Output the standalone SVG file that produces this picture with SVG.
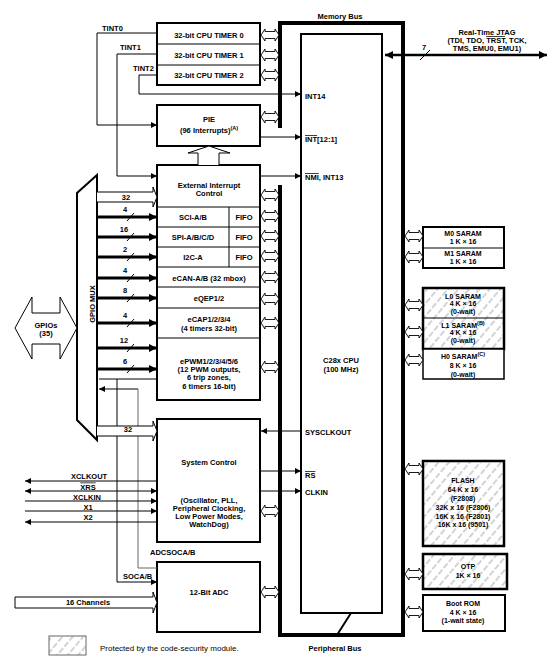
<svg xmlns="http://www.w3.org/2000/svg" xmlns:xlink="http://www.w3.org/1999/xlink" width="557" height="662" viewBox="0 0 557 662">
<style>
text{font-family:"Liberation Sans",Arial,sans-serif;font-size:7.5px;font-weight:bold;fill:#000;text-anchor:middle}
.l{text-anchor:start}
.m{font-size:7px}
.reg{font-weight:normal;font-size:8px}
.sup{font-size:5.5px}
.ov{text-decoration:overline}
.box{fill:#fff;stroke:#000;stroke-width:2}
.hb{fill:url(#hatch);stroke:#000;stroke-width:2.5}
.div{stroke:#000;stroke-width:1;fill:none}
.w{stroke:#000;stroke-width:1;fill:none}
.wa{stroke:#000;stroke-width:1;fill:none;marker-end:url(#ah)}
.ta{stroke:#000;stroke-width:3;fill:none;marker-end:url(#ahT)}
.ho{fill:#fff;stroke:#000;stroke-width:1}
.bus{fill:none;stroke:#000;stroke-width:4;stroke-linejoin:miter}
</style>
<defs>
<marker id="ah" viewBox="0 0 10 10" refX="10" refY="5" markerWidth="7" markerHeight="6" markerUnits="userSpaceOnUse" orient="auto-start-reverse"><path d="M0,0 L10,5 L0,10 Z" fill="#000"/></marker>
<marker id="ahT" viewBox="0 0 10 10" refX="10" refY="5" markerWidth="8" markerHeight="8" markerUnits="userSpaceOnUse" orient="auto-start-reverse"><path d="M0,0 L10,5 L0,10 Z" fill="#000"/></marker>
<pattern id="hatch" width="8" height="8" patternUnits="userSpaceOnUse" patternTransform="rotate(40)"><rect width="8" height="8" fill="#fff"/><line x1="1" y1="0" x2="1" y2="8" stroke="#b0b0b0" stroke-width="1.1" stroke-dasharray="6 2"/></pattern>
<path id="bx" d="M0,0 L4,-6 V-3.5 H14 V-6 L18,0 L14,6 V3.5 H4 V6 Z" fill="#fff" stroke="#000" stroke-width="0.9"/>
</defs>
<rect width="557" height="662" fill="#fff"/>

<g id="bus-frame">
<path class="bus" d="M280,128 V23 H403 V635 H280 V185"/>
<line x1="351" y1="613" x2="337" y2="635" stroke="#000" stroke-width="2"/>
<text x="340" y="19">Memory Bus</text>
<text x="335" y="651">Peripheral Bus</text>
</g>

<g id="cpu">
<rect x="301" y="34" width="81" height="579" fill="#fff" stroke="#000" stroke-width="2"/>
<text class="l" x="305" y="98.5">INT14</text>
<text class="l" x="305" y="142"><tspan class="ov">INT</tspan>[12:1]</text>
<text class="l" x="305" y="180"><tspan class="ov">NMI</tspan>, INT13</text>
<text x="341" y="363">C28x CPU</text>
<text x="341" y="372">(100 MHz)</text>
<text class="l" x="305" y="434.5">SYSCLKOUT</text>
<text class="l" x="305" y="478"><tspan class="ov">RS</tspan></text>
<text class="l" x="305" y="495">CLKIN</text>
</g>

<g id="jtag">
<text x="487" y="34.5">Real-Time JTAG</text>
<text x="487" y="43">(TDI, TDO, <tspan class="ov">TRST</tspan>, TCK,</text>
<text x="487" y="50.5">TMS, EMU0, EMU1)</text>
</g>

<g id="timers">
<rect class="box" x="157" y="23" width="103" height="62"/>
<line class="div" x1="157" y1="44" x2="260" y2="44"/>
<line class="div" x1="157" y1="65" x2="260" y2="65"/>
<text x="209" y="37.5">32-bit CPU TIMER 0</text>
<text x="209" y="58">32-bit CPU TIMER 1</text>
<text x="209" y="78">32-bit CPU TIMER 2</text>
</g>

<g id="pie">
<rect class="box" x="157" y="105" width="103" height="41"/>
<text x="209" y="122">PIE</text>
<text x="209" y="133">(96 Interrupts)<tspan class="sup" dy="-3">(A)</tspan></text>
</g>

<g id="peripherals">
<rect class="box" x="157" y="165" width="103" height="235"/>
<path class="div" d="M157,207 H260 M157,227 H260 M157,247 H260 M157,267 H260 M157,287 H260 M157,308 H260 M157,338 H260 M229,207 V267"/>
<text x="209" y="188">External Interrupt</text>
<text x="209" y="196">Control</text>
<text x="193" y="220">SCI-A/B</text><text x="244" y="220">FIFO</text>
<text x="193" y="240">SPI-A/B/C/D</text><text x="244" y="240">FIFO</text>
<text x="193" y="260">I2C-A</text><text x="244" y="260">FIFO</text>
<text x="209" y="281">eCAN-A/B (32 mbox)</text>
<text x="209" y="300.5">eQEP1/2</text>
<text x="209" y="322">eCAP1/2/3/4</text>
<text x="209" y="330.5">(4 timers 32-bit)</text>
<text x="209" y="363.5">ePWM1/2/3/4/5/6</text>
<text x="209" y="371.5">(12 PWM outputs,</text>
<text x="209" y="380">6 trip zones,</text>
<text x="209" y="388.5">6 timers 16-bit)</text>
</g>

<g id="gpio-mux">
<polygon points="97,175 97,440 77,420 77,193" fill="#fff" stroke="#000" stroke-width="2"/>
<text transform="translate(94.5,304) rotate(-90)">GPIO MUX</text>
</g>

<g id="gpios">
<path class="ho" d="M15,328 L32,297 V313 H60 V297 L77,328 L60,359 V344 H32 V359 Z"/>
<text x="46" y="327.5">GPIOs</text>
<text x="46" y="336">(35)</text>
</g>

<g id="system-control">
<rect class="box" x="157" y="419" width="103" height="123"/>
<text x="209" y="465">System Control</text>
<text x="209" y="503">(Oscillator, PLL,</text>
<text x="209" y="511">Peripheral Clocking,</text>
<text x="209" y="519">Low Power Modes,</text>
<text x="209" y="527">WatchDog)</text>
</g>

<g id="adc">
<rect class="box" x="157" y="562" width="103" height="70"/>
<text x="209" y="595">12-Bit ADC</text>
</g>

<g id="m0m1">
<rect class="box" x="423" y="227" width="81" height="41"/>
<line class="div" x1="423" y1="248" x2="504" y2="248"/>
<text class="m" x="463" y="236">M0 SARAM</text>
<text class="m" x="463" y="243.5">1 K × 16</text>
<text class="m" x="463" y="256">M1 SARAM</text>
<text class="m" x="463" y="263.5">1 K × 16</text>
</g>

<g id="l0l1">
<rect class="hb" x="423" y="288" width="81" height="61"/>
<line class="div" x1="423" y1="318" x2="504" y2="318"/>
<text class="m" x="463" y="299">L0 SARAM</text>
<text class="m" x="463" y="306">4 K × 16</text>
<text class="m" x="463" y="313.5">(0-wait)</text>
<text class="m" x="463" y="328">L1 SARAM<tspan class="sup" dy="-3">(B)</tspan></text>
<text class="m" x="463" y="335" dy="0">4 K × 16</text>
<text class="m" x="463" y="342.5">(0-wait)</text>
</g>

<g id="h0">
<rect x="423" y="349" width="81" height="30" fill="#fff" stroke="#000" stroke-width="1.5"/>
<text class="m" x="463" y="359">H0 SARAM<tspan class="sup" dy="-3">(C)</tspan></text>
<text class="m" x="463" y="368">8 K × 16</text>
<text class="m" x="463" y="376.5">(0-wait)</text>
</g>

<g id="flash">
<rect class="hb" x="423" y="461" width="81" height="85"/>
<text class="m" x="463" y="483">FLASH</text>
<text class="m" x="463" y="492">64 K x 16</text>
<text class="m" x="463" y="500.5">(F2808)</text>
<text class="m" x="463" y="509.5">32K x 16 (F2806)</text>
<text class="m" x="463" y="518.5">16K x 16 (F2801)</text>
<text class="m" x="463" y="527">16K x 16 (9501)</text>
</g>

<g id="otp">
<rect class="hb" x="423" y="554" width="84" height="35"/>
<text class="m" x="468" y="569">OTP</text>
<text class="m" x="468" y="578">1K × 16</text>
</g>

<g id="boot-rom">
<rect class="box" x="423" y="595" width="82" height="36"/>
<text class="m" x="463" y="606">Boot ROM</text>
<text class="m" x="463" y="614.5">4 K × 16</text>
<text class="m" x="463" y="623">(1-wait state)</text>
</g>

<g id="legend">
<rect x="49" y="636" width="37" height="19" fill="url(#hatch)" stroke="#666" stroke-width="1"/>
<text class="l reg" x="100" y="651">Protected by the code-security module.</text>
</g>

<g id="connectors">
<use href="#bx" x="261" y="35"/>
<use href="#bx" x="261" y="55"/>
<use href="#bx" x="261" y="75"/>
<use href="#bx" x="261" y="117"/>
<use href="#bx" x="261" y="195"/>
<use href="#bx" x="261" y="216"/>
<use href="#bx" x="261" y="236"/>
<use href="#bx" x="261" y="256"/>
<use href="#bx" x="261" y="277"/>
<use href="#bx" x="261" y="299"/>
<use href="#bx" x="261" y="323"/>
<use href="#bx" x="261" y="367"/>
<use href="#bx" x="261" y="511"/>
<use href="#bx" x="261" y="592"/>
<use href="#bx" x="405" y="236"/>
<use href="#bx" x="405" y="257"/>
<use href="#bx" x="405" y="305"/>
<use href="#bx" x="405" y="332"/>
<use href="#bx" x="405" y="360"/>
<use href="#bx" x="405" y="469"/>
<use href="#bx" x="405" y="574"/>
<use href="#bx" x="405" y="612"/>

<line x1="385" y1="55" x2="547" y2="55" stroke="#000" stroke-width="2.5" marker-start="url(#ahT)" marker-end="url(#ahT)"/>
<line class="w" x1="420" y1="60" x2="430" y2="50"/>
<text x="424" y="50">7</text>

<path class="wa" d="M157,33 H97 V125 H157"/>
<text class="l" x="102" y="31">TINT0</text>
<path class="wa" d="M157,54 H117 V176 H157"/>
<text class="l" x="120" y="50">TINT1</text>
<path class="wa" d="M157,75 H139 V94 H301"/>
<text class="l" x="133" y="71">TINT2</text>

<path class="wa" d="M260,137 H301"/>
<path class="wa" d="M260,176 H301"/>

<path class="ho" d="M198,165 V153 H188 L209,146 L230,153 H219 V165"/>

<path class="ho" d="M97,192 H153 V187 L157,197 L153,207 V202 H97"/>
<text x="126" y="200">32</text>
<path class="ta" d="M97,217 H157"/>
<path class="ta" d="M97,237 H157"/>
<path class="ta" d="M97,257 H157"/>
<path class="ta" d="M97,278 H157"/>
<path class="ta" d="M97,298 H157"/>
<path class="ta" d="M97,323 H157"/>
<path class="ta" d="M97,348 H157"/>
<path class="ta" d="M97,369 H157"/>
<g class="w">
<line x1="127" y1="221" x2="134" y2="213"/>
<line x1="127" y1="241" x2="134" y2="233"/>
<line x1="127" y1="261" x2="134" y2="253"/>
<line x1="127" y1="282" x2="134" y2="274"/>
<line x1="127" y1="302" x2="134" y2="294"/>
<line x1="127" y1="327" x2="134" y2="319"/>
<line x1="127" y1="352" x2="134" y2="344"/>
<line x1="127" y1="373" x2="134" y2="365"/>
</g>
<text x="125" y="212">4</text>
<text x="124" y="232">16</text>
<text x="125" y="252">2</text>
<text x="125" y="273">4</text>
<text x="125" y="293">8</text>
<text x="125" y="318">4</text>
<text x="124" y="343">12</text>
<text x="125" y="364">6</text>

<path class="w" d="M99,379 H157"/>
<path class="wa" d="M138,389 H99"/>
<path class="wa" d="M117,379 V582 H157"/>
<path d="M138,389 V568 H157" fill="none" stroke="#666" stroke-width="1"/>
<text class="l" x="150" y="555">ADCSOCA/B</text>
<text class="l" x="123" y="579">SOCA/B</text>

<path class="ho" d="M97,426 H153 V421 L157,431 L153,441 V436 H97"/>
<text x="128" y="432">32</text>

<path class="wa" d="M301,431 H261"/>
<path class="wa" d="M260,471 H301"/>
<path class="wa" d="M260,491 H301"/>

<line class="w" x1="25" y1="481" x2="157" y2="481" marker-start="url(#ah)"/>
<line class="w" x1="25" y1="491" x2="157" y2="491" marker-start="url(#ah)" marker-end="url(#ah)"/>
<line class="wa" x1="25" y1="501" x2="157" y2="501"/>
<line class="wa" x1="25" y1="511" x2="157" y2="511"/>
<line class="w" x1="25" y1="522" x2="157" y2="522" marker-start="url(#ah)"/>
<text x="89" y="479">XCLKOUT</text>
<text x="88" y="489.5"><tspan class="ov">XRS</tspan></text>
<text x="87" y="499.5">XCLKIN</text>
<text x="88" y="509.5">X1</text>
<text x="88" y="520">X2</text>

<path class="ho" d="M15,597 H153 V592 L157,602.5 L153,613 V608 H15 Z"/>
<text x="88" y="605">16 Channels</text>
</g>
</svg>
